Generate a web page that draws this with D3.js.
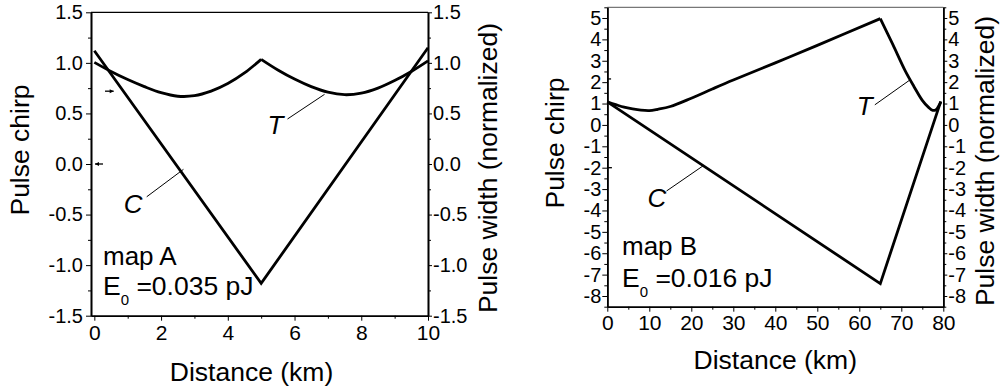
<!DOCTYPE html>
<html>
<head>
<meta charset="utf-8">
<script src="https://cdn.jsdelivr.net/npm/d3@7"></script>
<style>
  body { margin: 0; background: #fff; }
  svg { font-family: "Liberation Sans", Arial, sans-serif; }
  .axis path, .axis line { stroke: #000; }
  .axis text { fill: #000; }
  .curve { fill: none; stroke: #000; stroke-width: 2.8; stroke-linejoin: miter; }
  .leader { stroke: #000; stroke-width: 1; }
</style>
</head>
<body>
<script>
// map A (left panel)
var distA = [0, 0.5, 1, 1.5, 2, 2.5, 3, 3.5, 4, 4.5, 5, 5.5, 6, 6.5, 7, 7.5, 8, 8.5, 9, 9.5, 10];
var widthA = [1.005, 0.915, 0.835, 0.765, 0.705, 0.67, 0.675, 0.72, 0.795, 0.90, 1.035, 0.93, 0.84, 0.765, 0.71, 0.685, 0.70, 0.75, 0.825, 0.915, 1.02];
var chirpDistA = [0, 5, 10];
var chirpA = [1.12, -1.18, 1.15];
var cuspA = [5];
var yTicksA = [-1.5, -1.0, -0.5, 0.0, 0.5, 1.0, 1.5];
var xTicksA = [0, 2, 4, 6, 8, 10];

// map B (right panel)
var distB = [0, 2, 4, 6, 8, 10, 12, 15, 20, 25, 30, 40, 50, 65, 68, 71, 73, 75, 76.5, 77.5, 78.3, 79, 79.4];
var widthB = [1.08, 0.95, 0.83, 0.75, 0.69, 0.67, 0.73, 0.86, 1.25, 1.68, 2.1, 2.9, 3.72, 4.97, 3.75, 2.5, 1.8, 1.15, 0.82, 0.68, 0.72, 0.92, 1.08];
var chirpDistB = [0, 65, 79.4];
var chirpB = [1.08, -7.42, 1.1];
var cuspB = [65];
var yTicksB = [-8, -7, -6, -5, -4, -3, -2, -1, 0, 1, 2, 3, 4, 5];
var xTicksB = [0, 10, 20, 30, 40, 50, 60, 70, 80];

var svg = d3.select("body").append("svg")
    .attr("width", 1003)
    .attr("height", 390);

function panel(o) {
  var x = d3.scaleLinear().domain(o.xDomain).range(o.xRange),
      y = d3.scaleLinear().domain(o.yDomain).range(o.yRange);
  var g = svg.append("g");

  // top border
  g.append("line")
    .attr("x1", o.xRange[0]).attr("x2", o.xRange[1])
    .attr("y1", o.yRange[1]).attr("y2", o.yRange[1])
    .attr("stroke", o.topColor).attr("stroke-width", 1.2);

  // minor ticks first
  g.append("g").attr("class", "axis")
    .attr("transform", "translate(0," + o.yRange[0] + ")")
    .call(d3.axisBottom(x).tickValues(o.xMinor).tickSize(3).tickSizeOuter(0).tickFormat(""));
  g.append("g").attr("class", "axis")
    .attr("transform", "translate(" + o.xRange[0] + ",0)")
    .call(d3.axisLeft(y).tickValues(o.yMinor).tickSize(3).tickSizeOuter(0).tickFormat(""));
  g.append("g").attr("class", "axis")
    .attr("transform", "translate(" + o.xRange[1] + ",0)")
    .call(d3.axisRight(y).tickValues(o.yMinor).tickSize(3).tickSizeOuter(0).tickFormat(""));

  // major axes
  var xa = g.append("g").attr("class", "axis")
    .attr("transform", "translate(0," + o.yRange[0] + ")")
    .call(d3.axisBottom(x).tickValues(o.xTicks).tickSize(5).tickSizeOuter(0).tickPadding(o.xPad)
      .tickFormat(function(d) { return String(d); }));
  xa.selectAll("text").style("font-size", "21px");

  var yl = g.append("g").attr("class", "axis")
    .attr("transform", "translate(" + o.xRange[0] + ",0)")
    .call(d3.axisLeft(y).tickValues(o.yTicks).tickSize(5).tickSizeOuter(0).tickPadding(o.yPadL).tickFormat(o.fmt));
  var yr = g.append("g").attr("class", "axis")
    .attr("transform", "translate(" + o.xRange[1] + ",0)")
    .call(d3.axisRight(y).tickValues(o.yTicks).tickSize(4).tickSizeOuter(0).tickPadding(o.yPadR).tickFormat(o.fmt));
  g.selectAll(".axis path.domain").attr("stroke-width", 1.6);
  yl.selectAll("text").style("font-size", "20px");
  yr.selectAll("text").style("font-size", "20px");

  // curves: width (split at cusps), chirp (straight segments)
  var pts = o.dist.map(function(d, i) { return [d, o.width[i]]; });
  var cuts = [o.dist[0]].concat(o.cusp, [o.dist[o.dist.length - 1]]);
  var smooth = d3.line()
    .x(function(d) { return x(d[0]); })
    .y(function(d) { return y(d[1]); })
    .curve(d3.curveCatmullRom.alpha(0.5));
  for (var k = 0; k < cuts.length - 1; k++) {
    var seg = pts.filter(function(p) { return p[0] >= cuts[k] && p[0] <= cuts[k + 1]; });
    g.append("path").attr("class", "curve").attr("d", smooth(seg));
  }
  var straight = d3.line()
    .x(function(d) { return x(d[0]); })
    .y(function(d) { return y(d[1]); });
  g.append("path").attr("class", "curve")
    .attr("d", straight(o.chirpDist.map(function(d, i) { return [d, o.chirp[i]]; })));

  // leader lines and curve labels
  o.leaders.forEach(function(l) {
    g.append("line").attr("class", "leader")
      .attr("x1", x(l[0])).attr("y1", y(l[1]))
      .attr("x2", x(l[2])).attr("y2", y(l[3]));
  });
  o.labels.forEach(function(l) {
    g.append("text")
      .attr("x", x(l[1])).attr("y", y(l[2]))
      .attr("text-anchor", "middle")
      .style("font-size", "26px").style("font-style", "italic")
      .text(l[0]);
  });

  // small marks near the left axis
  o.marks.forEach(function(m) {
    g.append("line")
      .attr("x1", x(m[0])).attr("x2", x(m[1]))
      .attr("y1", y(m[2])).attr("y2", y(m[2]))
      .attr("stroke", "#000").attr("stroke-width", 1.3);
    if (m[3]) {
      var tip = x(m[1]), dir = m[1] > m[0] ? -1 : 1;
      g.append("path")
        .attr("d", "M" + tip + "," + y(m[2]) + "l" + (dir * 4) + ",-2l0,4z")
        .attr("fill", "#000");
    }
  });

  // map name and energy
  g.append("text")
    .attr("x", x(o.note[0])).attr("y", y(o.note[1]))
    .style("font-size", "26px")
    .text(o.mapName);
  var e = g.append("text")
    .attr("x", x(o.note[0])).attr("y", y(o.note[2]))
    .style("font-size", "26.5px");
  e.append("tspan").text("E");
  e.append("tspan").attr("dy", 10).style("font-size", "15px").text("0");
  e.append("tspan").attr("dy", -10).text(" =" + o.energy + " pJ");

  // axis titles
  var cx = (o.xRange[0] + o.xRange[1]) / 2,
      cy = (o.yRange[0] + o.yRange[1]) / 2;
  g.append("text")
    .attr("x", cx + o.titleDx).attr("y", o.xTitleY)
    .attr("text-anchor", "middle").style("font-size", "26.5px")
    .text("Distance (km)");
  g.append("text")
    .attr("transform", "translate(" + o.yTitleL + "," + (cy - 14) + ") rotate(-90)")
    .attr("text-anchor", "middle").style("font-size", "26.5px")
    .text("Pulse chirp");
  g.append("text")
    .attr("transform", "translate(" + o.yTitleR + "," + (cy + 4) + ") rotate(-90)")
    .attr("text-anchor", "middle").style("font-size", "26.5px")
    .text("Pulse width (normalized)");
}

panel({
  xDomain: [-0.1, 10], xRange: [91, 428],
  yDomain: [-1.5, 1.5], yRange: [315.7, 12.3],
  topColor: "#000",
  xTicks: xTicksA, xMinor: [1, 3, 5, 7, 9],
  yTicks: yTicksA, yMinor: [-1.25, -0.75, -0.25, 0.25, 0.75, 1.25],
  fmt: function(d) { return d.toFixed(1); },
  xPad: 4, yPadL: 3, yPadR: 1,
  dist: distA, width: widthA, cusp: cuspA,
  chirpDist: chirpDistA, chirp: chirpA,
  leaders: [[5.79, 0.445, 6.9, 0.689], [1.57, -0.324, 2.67, -0.053]],
  labels: [["T", 5.43, 0.30], ["C", 1.16, -0.48]],
  marks: [[0.32, 0.58, 0.72, true], [0.26, 0.02, 0.0, true]],
  note: [0.26, -1.0, -1.296],
  mapName: "map A", energy: "0.035",
  titleDx: -8, xTitleY: 381, yTitleL: 29, yTitleR: 497
});

panel({
  xDomain: [0, 80], xRange: [607.3, 943.3],
  yDomain: [-8.5, 5.5], yRange: [306.7, 7.3],
  topColor: "#777",
  xTicks: xTicksB, xMinor: [5, 15, 25, 35, 45, 55, 65, 75],
  yTicks: yTicksB, yMinor: d3.range(-8.5, 5.6, 1),
  fmt: function(d) { return String(d); },
  xPad: 3, yPadL: 1, yPadR: 1,
  dist: distB, width: widthB, cusp: cuspB,
  chirpDist: chirpDistB, chirp: chirpB,
  leaders: [[63.7, 0.94, 72.1, 2.11], [14.1, -3.09, 22.9, -1.9]],
  labels: [["T", 61.3, 0.47], ["C", 11.8, -3.83]],
  marks: [[0, 0.9, 2.15, false], [0, 1.1, -2.0, false]],
  note: [3.5, -6.08, -7.58],
  mapName: "map B", energy: "0.016",
  titleDx: 0, xTitleY: 369, yTitleL: 564, yTitleR: 994
});
</script>
</body>
</html>
